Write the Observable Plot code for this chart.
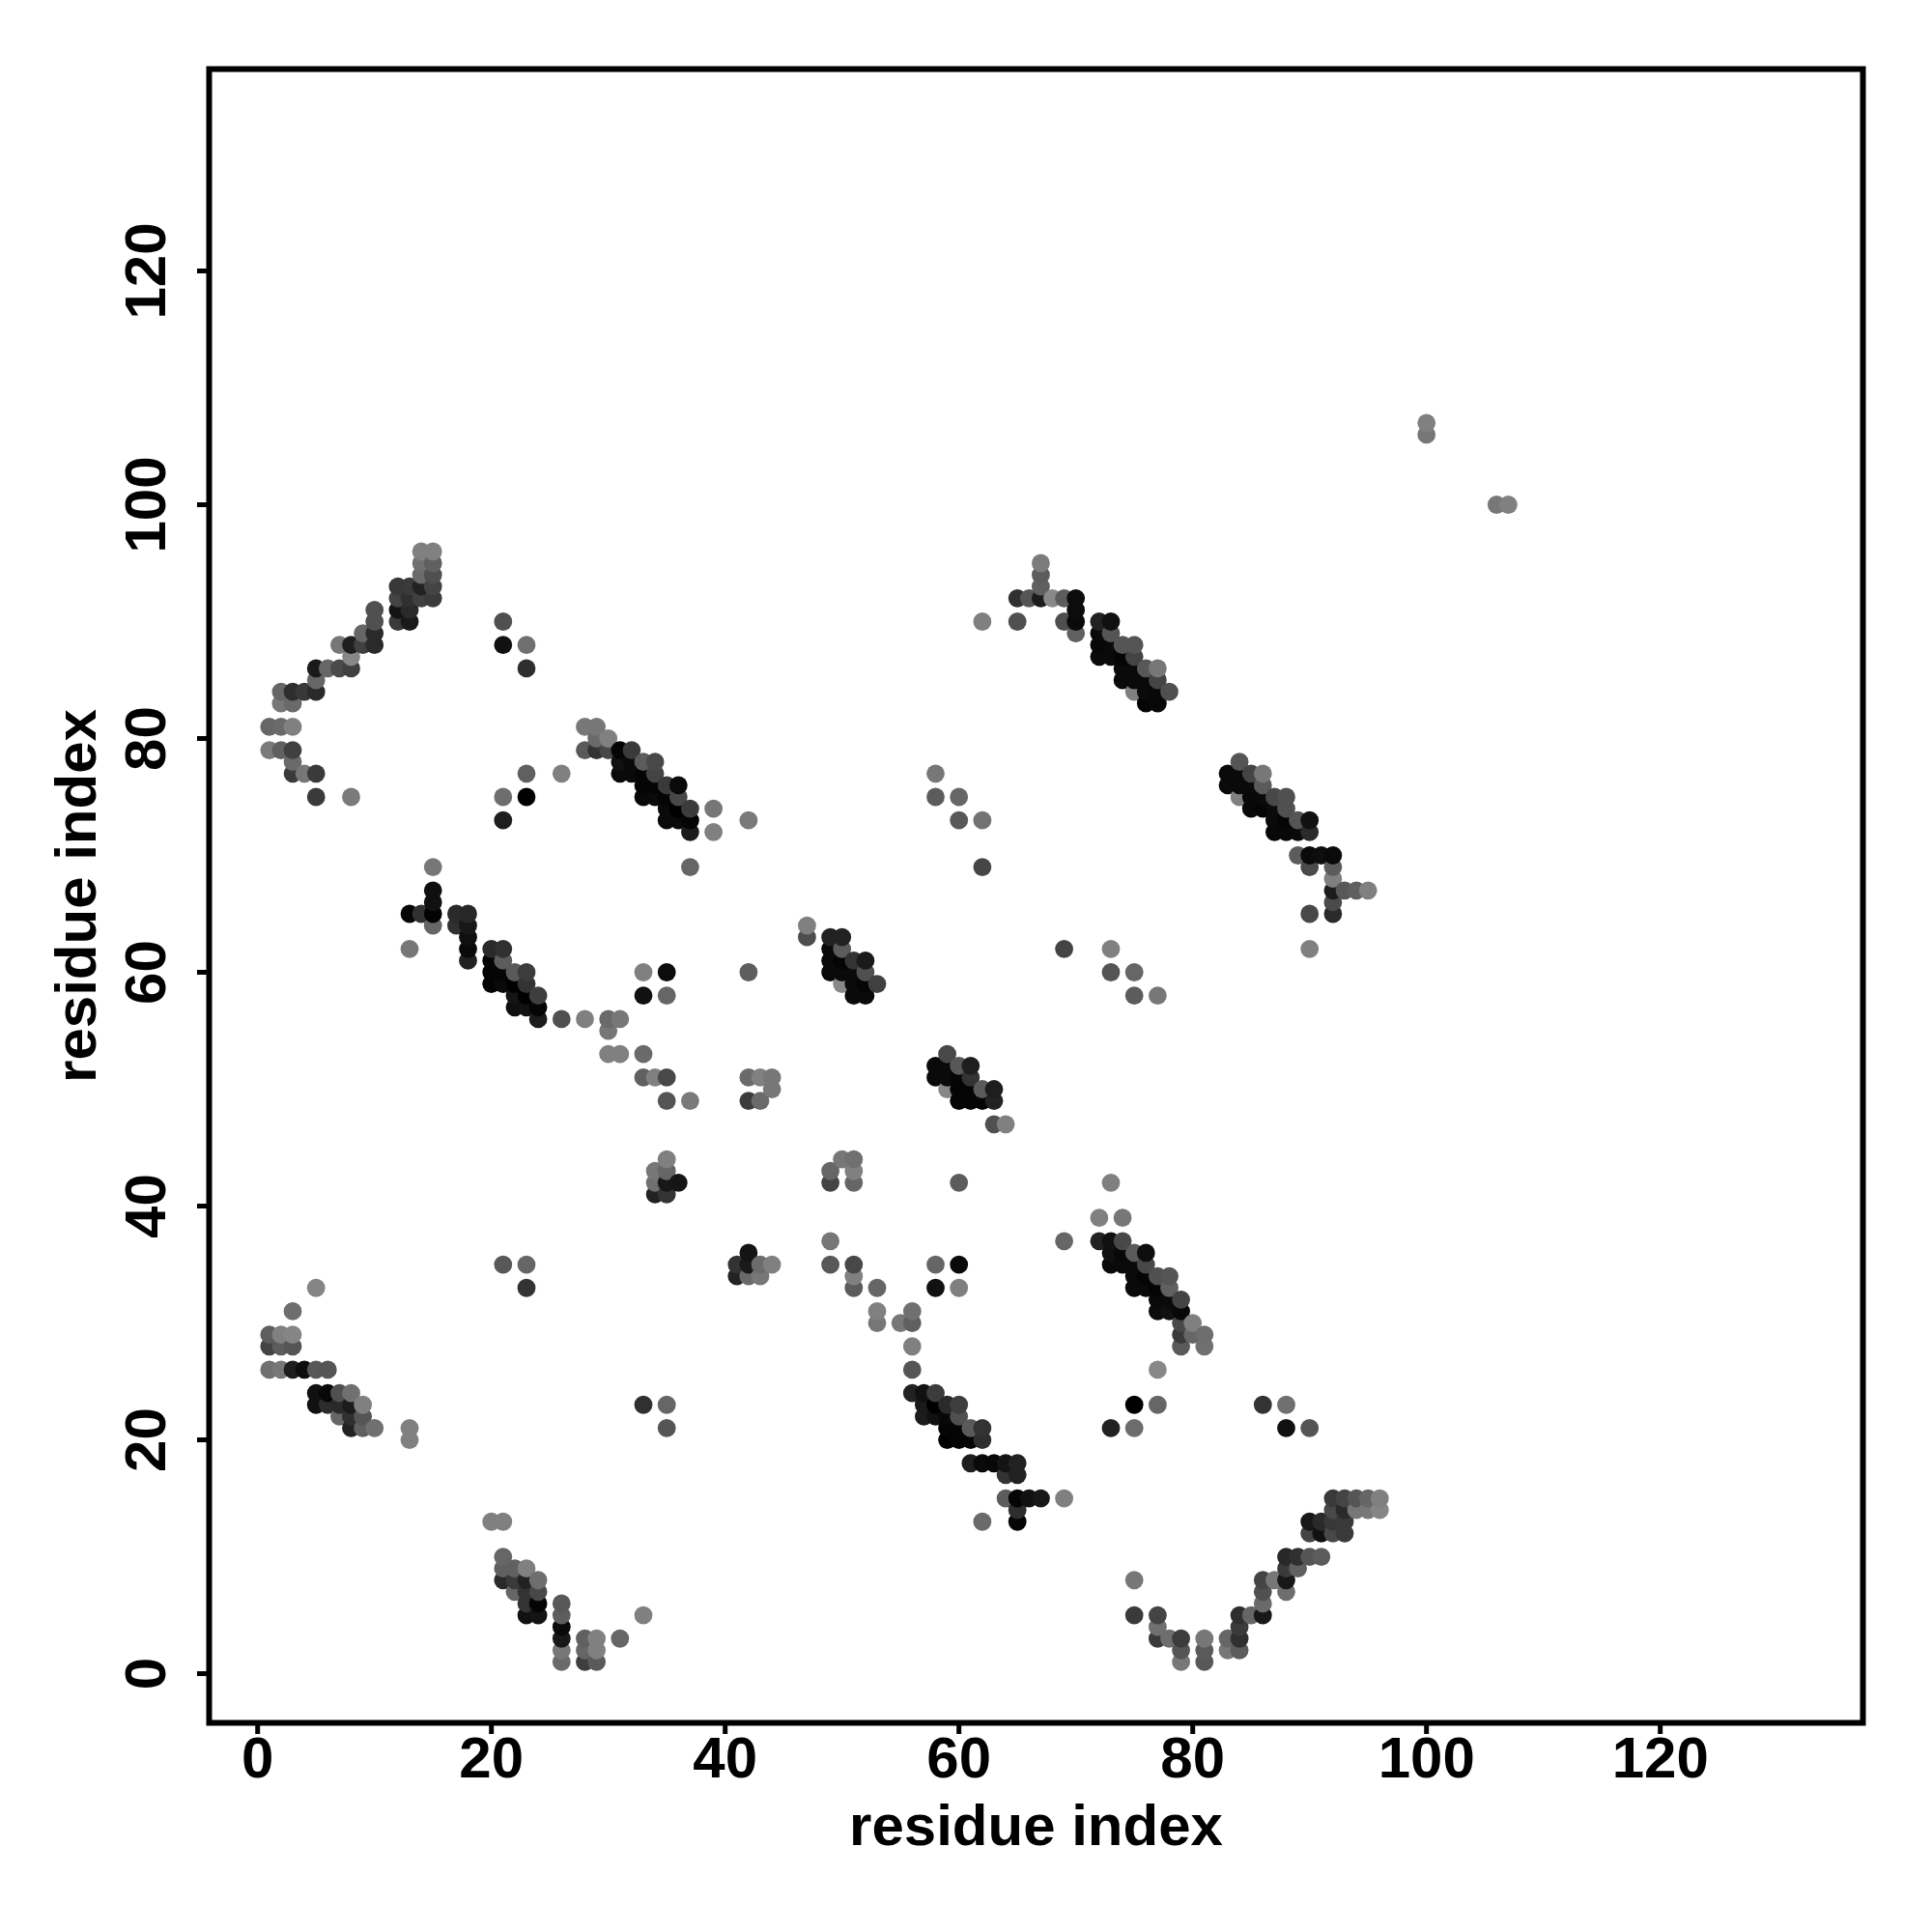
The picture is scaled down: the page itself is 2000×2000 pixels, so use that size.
<!DOCTYPE html>
<html>
<head>
<meta charset="utf-8">
<script src="https://cdn.jsdelivr.net/npm/d3@7"></script>
<script src="https://cdn.jsdelivr.net/npm/@observablehq/plot@0.6"></script>
<style>
html,body{margin:0;padding:0;background:#fff}
</style>
</head>
<body>
<div id="chart"></div>
<script>
// each contact: [residue i, residue j, grey level]
const helixTopLeft = [[14,96,128],[15,96,128],[14,95,112],[15,95,96],[14,94,106],[15,94,80],[15,93,68],[14,93,34],[13,93,58],[12,93,56],[15,92,58],[14,92,64],[13,92,48],[12,92,68],[13,91,42],[12,91,20],[13,90,26],[12,90,58],[10,91,80],[10,90,80],[10,89,42],[10,88,42],[9,89,102],[9,88,64],[8,88,31],[7,88,119],[8,87,136],[8,86,64],[7,86,74],[6,86,102],[5,86,26],[5,85,102],[5,84,42],[4,84,56],[3,84,46],[2,84,102],[2,83,119],[3,83,106],[1,81,102],[2,81,106],[3,81,128],[1,79,122],[2,79,96],[3,79,64],[3,78,106],[3,77,58],[4,77,119],[5,77,58],[5,75,58],[8,75,122]];
const scatterTop = [[21,90,80],[21,88,17],[23,88,112],[23,86,46],[23,77,96],[26,77,128],[21,75,110],[23,75,0],[21,73,30],[62,90,128],[65,90,80]];
const strand28 = [[28,81,120],[29,81,119],[30,80,128],[29,80,106],[28,79,90],[29,79,51],[30,79,72],[31,79,5],[32,79,58],[33,78,92],[34,78,72],[31,78,17],[32,78,10],[31,77,10],[32,77,10],[33,77,5],[34,77,68],[33,76,5],[34,76,5],[35,76,58],[36,76,10],[33,75,8],[34,75,10],[35,75,5],[36,75,72],[35,74,10],[36,74,0],[37,74,60],[39,74,119],[35,73,10],[36,73,10],[37,73,5],[42,73,122],[37,72,28],[39,72,128],[37,69,102]];
const strand13 = [[15,69,119],[15,67,15],[15,66,17],[15,65,3],[14,65,48],[13,65,6],[15,64,102],[17,65,42],[18,65,40],[17,64,48],[18,64,24],[18,63,15],[18,62,10],[18,61,34],[13,62,119],[20,62,42],[21,62,48],[20,61,5],[21,61,92],[20,60,5],[21,60,5],[22,60,90],[23,60,60],[20,59,3],[21,59,10],[22,59,0],[23,59,51],[22,58,20],[23,58,0],[24,58,62],[22,57,15],[23,57,17],[24,57,5],[24,56,28]];
const middleLeft = [[26,56,80],[28,56,128],[30,56,106],[31,56,119],[30,55,119],[30,53,128],[31,53,128],[33,53,106],[33,51,96],[34,51,128],[35,51,72],[42,51,106],[43,51,128],[44,51,119],[44,50,119],[35,49,85],[37,49,122],[42,49,60],[43,49,106],[33,60,128],[35,60,12],[33,58,17],[35,58,102],[42,60,94]];
const strand47 = [[47,64,128],[47,63,78],[49,63,34],[50,63,34],[49,62,10],[50,62,92],[49,61,10],[50,61,5],[51,61,51],[52,61,26],[49,60,10],[50,60,10],[51,60,10],[52,60,80],[50,59,136],[51,59,10],[52,59,5],[53,59,64],[51,58,10],[52,58,10]];
const strand58 = [[59,53,72],[58,52,10],[59,52,10],[60,52,88],[61,52,30],[58,51,10],[59,51,10],[60,51,5],[61,51,51],[59,50,136],[60,50,5],[61,50,5],[62,50,90],[63,50,30],[60,49,5],[61,49,5],[62,49,5],[63,49,34],[63,47,80],[64,47,128]];
const strand65 = [[67,95,124],[67,94,92],[67,93,96],[65,92,48],[66,92,85],[67,92,28],[68,92,136],[69,92,92],[70,92,12],[70,91,12],[70,90,10],[69,90,78],[70,89,96],[72,90,34],[73,90,17],[72,89,10],[73,89,85],[72,88,8],[73,88,10],[74,88,85],[75,88,85],[72,87,10],[73,87,10],[74,87,5],[75,87,68],[74,86,10],[75,86,10],[76,86,88],[77,86,119],[74,85,10],[75,85,10],[76,85,10],[77,85,68],[75,84,128],[76,84,10],[77,84,8],[78,84,80],[76,83,6],[77,83,8]];
const scatterRight = [[58,77,119],[58,75,92],[60,75,102],[60,73,88],[62,73,115],[62,69,70],[69,62,68],[73,62,128],[73,60,85],[75,60,102],[75,58,92],[77,58,119]];
const strand83 = [[84,78,85],[83,77,10],[84,77,10],[85,77,68],[86,77,119],[83,76,10],[84,76,10],[85,76,10],[86,76,90],[84,75,128],[85,75,8],[86,75,10],[87,75,72],[88,75,80],[85,74,8],[86,74,5],[87,74,10],[88,74,80],[87,73,10],[88,73,5],[89,73,85],[90,73,17],[87,72,8],[88,72,8],[89,72,10],[90,72,42],[89,70,92],[90,70,10],[91,70,14],[92,70,10],[90,69,74],[92,69,92],[92,68,128],[92,67,28],[93,67,88],[94,67,96],[95,67,128],[92,66,74],[92,65,42],[90,65,72],[90,62,128]];
const farContacts = [[100,107,128],[100,106,119],[106,100,119],[107,100,128]];
const middleCentre = [[49,43,102],[50,44,119],[51,44,112],[51,43,128],[49,42,68],[51,42,102],[60,42,92],[73,42,128],[72,39,128],[74,39,119],[69,37,102],[35,44,128],[34,43,119],[35,43,102],[34,42,112],[35,42,24],[36,42,21],[34,41,34],[35,41,51],[42,36,20],[41,35,51],[42,35,26],[43,35,108],[44,35,128],[41,34,34],[42,34,106],[43,34,119],[49,37,119],[49,35,88],[51,35,72],[51,34,128],[51,33,92],[53,33,102],[53,31,128],[53,30,119],[55,30,119],[56,31,112],[56,30,96],[56,28,128],[56,26,85],[58,35,102],[60,35,10],[58,33,17],[60,33,128]];
const strand72 = [[72,37,34],[73,37,17],[74,37,72],[75,36,90],[76,36,14],[73,36,15],[74,36,8],[73,35,10],[74,35,10],[75,35,10],[76,35,72],[75,34,10],[76,34,5],[77,34,80],[78,34,85],[75,33,10],[76,33,10],[77,33,5],[78,33,96],[77,32,10],[78,32,10],[79,32,68],[77,31,12],[78,31,17],[79,31,8],[79,30,72],[80,30,128],[79,29,58],[80,29,102],[81,29,110],[79,28,90],[81,28,112],[77,26,136],[75,23,0],[77,23,102],[73,21,34],[75,21,108],[86,23,51],[88,23,112],[88,21,17],[90,21,85]];
const strand56 = [[56,24,34],[57,24,17],[58,24,60],[57,23,26],[58,23,0],[59,23,42],[60,23,62],[57,22,28],[58,22,17],[59,22,8],[60,22,80],[59,21,5],[60,21,5],[61,21,90],[62,21,51],[59,20,0],[60,20,5],[61,20,5],[62,20,46],[61,18,30],[62,18,10],[63,18,8],[64,18,20],[65,18,34],[64,17,51],[65,17,34],[64,15,92],[65,15,5],[66,15,17],[67,15,24],[69,15,128],[65,14,46],[62,13,106],[65,13,5]];
const strandBottomLeft = [[5,33,133],[3,31,110],[1,29,94],[2,29,128],[3,29,133],[1,28,68],[2,28,92],[3,28,85],[1,26,112],[2,26,119],[3,26,30],[4,26,14],[5,26,88],[6,26,85],[5,24,17],[6,24,8],[7,24,80],[8,24,112],[5,23,17],[6,23,44],[7,23,42],[8,23,28],[9,23,128],[7,22,102],[8,22,48],[9,22,85],[8,21,34],[9,21,96],[10,21,112],[13,21,128],[13,20,128],[21,35,88],[23,35,102],[23,33,51],[33,23,48],[35,23,102],[35,21,85]];
const strand20 = [[20,13,128],[21,13,128],[21,10,102],[21,9,96],[22,9,96],[23,9,128],[21,8,42],[22,8,58],[23,8,34],[24,8,110],[22,7,102],[23,7,51],[24,7,72],[23,6,51],[24,6,5],[23,5,17],[24,5,20],[26,6,88],[26,5,94],[26,4,10],[26,3,24],[26,2,119],[26,1,106],[28,3,96],[29,3,128],[28,2,102],[29,2,128],[28,1,62],[29,1,90],[31,3,102],[33,5,128]];
const strand75 = [[92,15,58],[93,15,68],[94,15,85],[95,15,102],[96,15,128],[92,14,72],[93,14,42],[94,14,119],[95,14,119],[96,14,133],[90,13,24],[91,13,42],[92,13,56],[93,13,58],[90,12,68],[91,12,17],[92,12,72],[93,12,58],[88,10,40],[89,10,48],[90,10,85],[91,10,92],[88,9,58],[89,9,96],[86,8,68],[87,8,119],[88,8,24],[88,7,110],[86,7,80],[86,6,106],[84,5,46],[85,5,102],[86,5,24],[84,4,58],[84,3,48],[83,3,102],[83,2,119],[84,2,92],[75,8,119],[75,5,58],[77,5,68],[77,4,112],[77,3,58],[78,3,110],[79,3,60],[79,2,85],[79,1,119],[81,3,119],[81,2,90],[81,1,88]];

const tickValues = [0, 20, 40, 60, 80, 100, 120];
const axisLabel = "residue index";

const contacts = d3.sort(
  [helixTopLeft, scatterTop, strand28, strand13, middleLeft, strand47, strand58, strand65, scatterRight,
   strand83, farContacts, middleCentre, strand72, strand56, strandBottomLeft, strand20, strand75]
    .flat().map(([i, j, level]) => ({i, j, level})),
  d => d.i, d => d.j
);

const chart = Plot.plot({
  width: 2000,
  height: 2000,
  marginLeft: 216,
  marginRight: 72,
  marginTop: 71,
  marginBottom: 217,
  x: {domain: [-4.15, 137.34]},
  y: {domain: [-4.21, 137.27]},
  color: {type: "linear", domain: [0, 255], range: ["#000000", "#ffffff"]},
  style: {fontFamily: "Liberation Sans", fontWeight: "bold", background: "#fff", color: "#000"},
  marks: [
    Plot.dot(contacts, {x: "i", y: "j", fill: "level", r: 9.4, stroke: null}),
    Plot.frame({stroke: "#000", strokeWidth: 6}),
    Plot.axisX({ticks: tickValues, tickSize: 12, tickPadding: 2, strokeWidth: 5, fontSize: 60, label: axisLabel, labelAnchor: "center", labelArrow: "none", labelOffset: 126}),
    Plot.axisY({ticks: tickValues, tickSize: 12, tickPadding: 34, strokeWidth: 5, fontSize: 60, tickRotate: -90, textAnchor: "middle", label: axisLabel, labelAnchor: "center", labelArrow: "none", labelOffset: 160})
  ]
});
document.getElementById("chart").appendChild(chart);
</script>
</body>
</html>
